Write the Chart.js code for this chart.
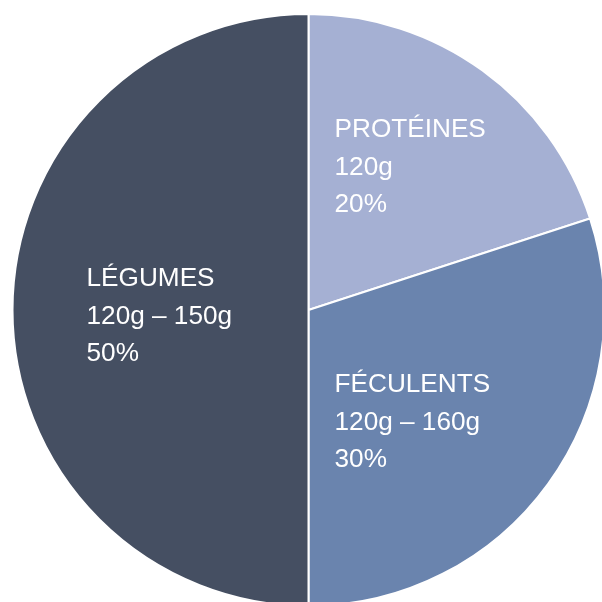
<!DOCTYPE html>
<html lang="fr">
<head>
<meta charset="utf-8">
<script src="https://cdn.jsdelivr.net/npm/chart.js@4"></script>
<style>
    html, body { margin: 0; padding: 0; background: #ffffff; overflow: hidden; }
    #vak { position: absolute; left: 0; top: 0; width: 617px; height: 620px; }
</style>
</head>
<body>
<div id="vak"><canvas id="bordGrafiek"></canvas></div>
<script>
"use strict";

// Gegevens van het bord, met de klok mee vanaf boven.
const categorieen = ["PROTÉINES", "FÉCULENTS", "LÉGUMES"];
const hoeveelheden = ["120g", "120g – 160g", "120g – 150g"];
const percentages = [20, 30, 50];
const kleuren = ["#a5b0d3", "#6a84ae", "#454f62"];

// Plek van elk tekstblok ten opzichte van het midden van de taart.
const tekstPlekken = [
    { dx: 26, dy: -173 },
    { dx: 26, dy: 82 },
    { dx: -222, dy: -24 }
];

// Schrijf de naam, de hoeveelheid en het percentage in elk stuk.
const labelPlugin = {
    id: "labelPlugin",
    afterDatasetsDraw(chart) {
        const ctx = chart.ctx;
        const bogen = chart.getDatasetMeta(0).data;
        ctx.save();
        ctx.fillStyle = "#ffffff";
        ctx.font = "26.2px 'Liberation Sans', Arial, sans-serif";
        ctx.textAlign = "left";
        ctx.textBaseline = "alphabetic";
        bogen.forEach((boog, i) => {
            const x = boog.x + tekstPlekken[i].dx;
            const y = boog.y + tekstPlekken[i].dy;
            ctx.fillText(categorieen[i], x, y);
            ctx.fillText(hoeveelheden[i], x, y + 37.5);
            ctx.fillText(percentages[i] + "%", x, y + 75);
        });
        ctx.restore();
    }
};

new Chart(document.getElementById("bordGrafiek"), {
    type: "pie",
    data: {
        labels: categorieen,
        datasets: [{
            data: percentages,
            backgroundColor: kleuren,
            borderColor: "#ffffff",
            borderWidth: 2
        }]
    },
    options: {
        responsive: true,
        maintainAspectRatio: false,
        animation: false,
        radius: 296,
        layout: { padding: 0 },
        plugins: {
            legend: { display: false },
            tooltip: { enabled: false }
        }
    },
    plugins: [labelPlugin]
});
</script>
</body>
</html>
